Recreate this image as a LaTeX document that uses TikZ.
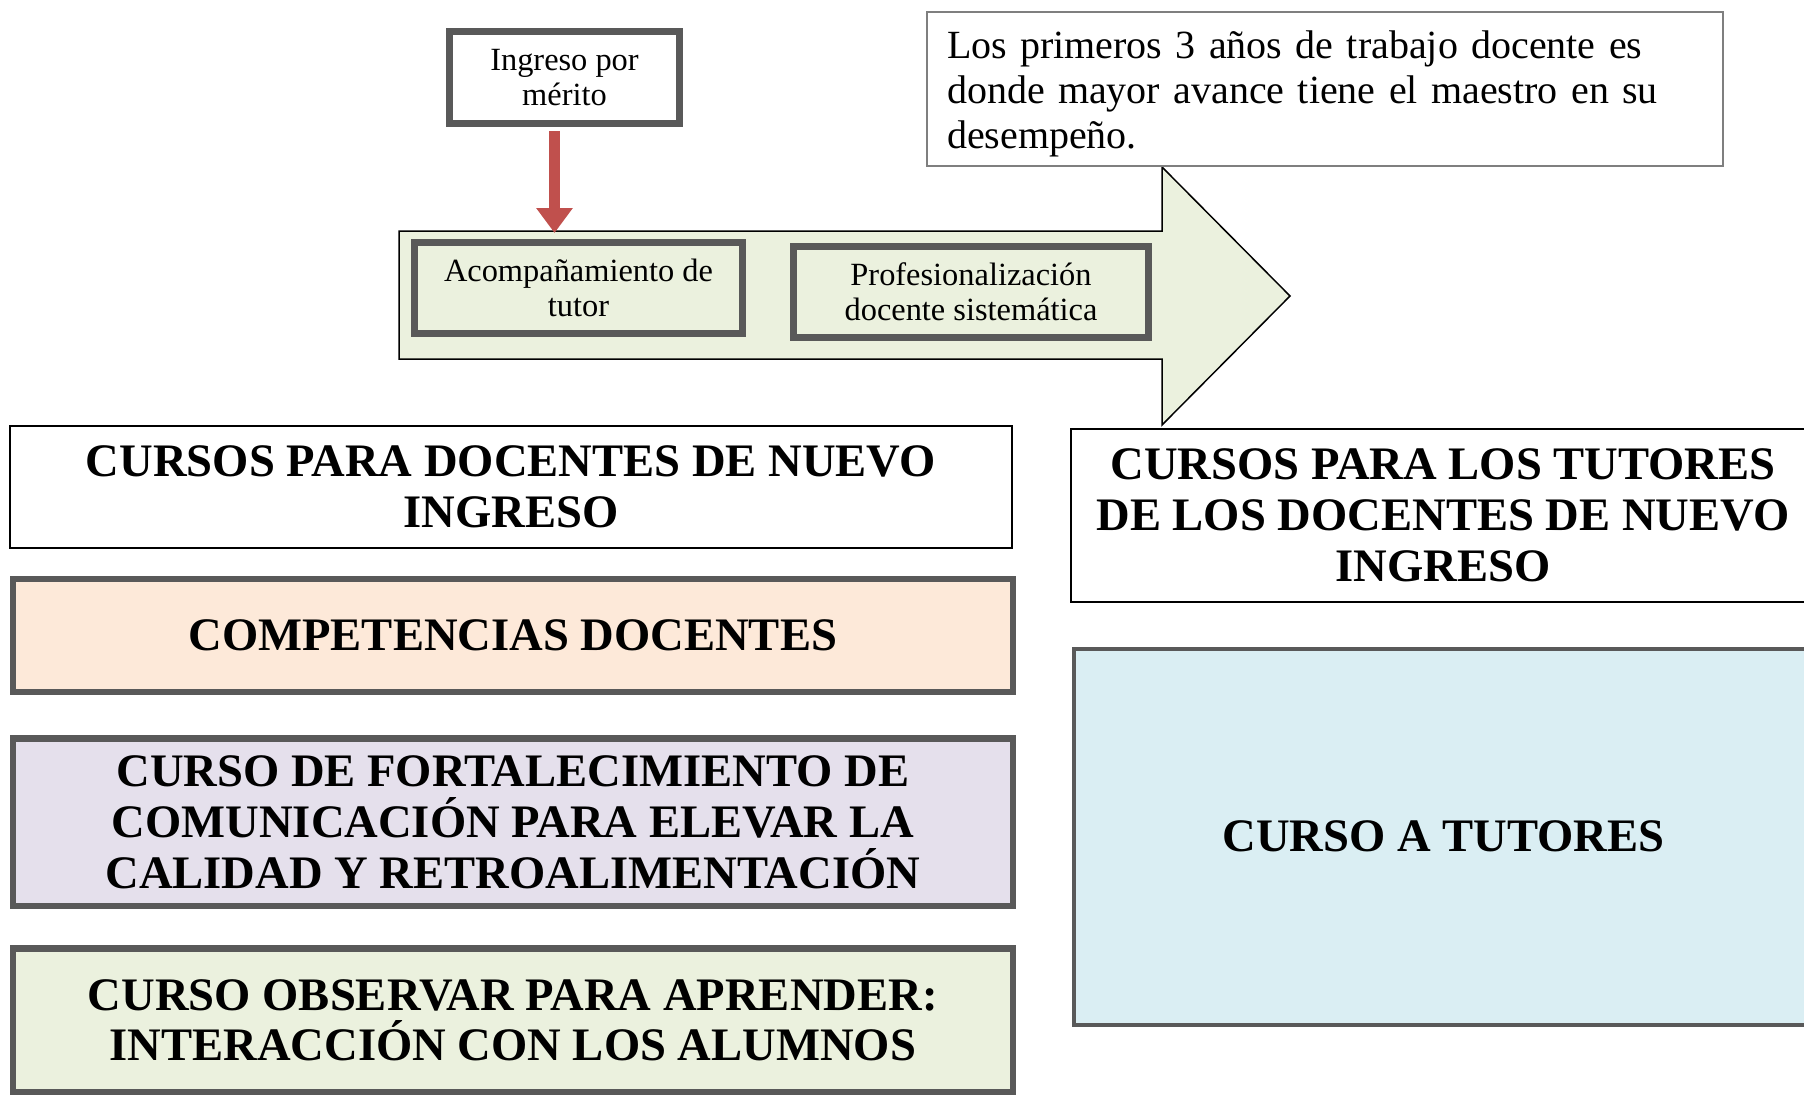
\documentclass[tikz,border=0pt]{standalone}
\usepackage{fontspec}
\setmainfont{Liberation Serif}
\usepackage{xcolor}
\usetikzlibrary{arrows.meta}

\definecolor{boxgray}{RGB}{89,89,89}
\definecolor{notegray}{RGB}{127,127,127}
\definecolor{flowgreen}{RGB}{235,241,222}
\definecolor{peach}{RGB}{253,233,217}
\definecolor{lavender}{RGB}{229,224,236}
\definecolor{paleblue}{RGB}{218,238,243}
\definecolor{arrowred}{RGB}{192,80,77}

\newcommand\smallfont{\fontsize{16.2}{17.4}\selectfont}
\newcommand\notefont{\fontsize{20}{22.4}\selectfont}
\newcommand\headfont{\fontsize{23.3}{25.3}\selectfont\bfseries}

\begin{document}
\begin{tikzpicture}[x=0.5pt,y=0.5pt,yscale=-1,xscale=1,
  thickbox/.style={draw=boxgray,line width=3.5pt,inner sep=0pt,align=center},
  bigbox/.style={draw=boxgray,line width=3.25pt,inner sep=0pt,align=center,font=\headfont},
  headbox/.style={draw=black,line width=1pt,fill=white,inner sep=0pt,align=center,font=\headfont},
  redarrow/.style={draw=arrowred,line width=5.5pt,-{Triangle[width=17.5pt,length=12.5pt]}}]
\useasboundingbox (0,0) rectangle (1804,1097);

%Shape: Right Arrow
\draw [fill=flowgreen,line width=0.75pt] (399,231) -- (1162,231) -- (1162,167) -- (1290,296) -- (1162,425) -- (1162,359) -- (399,359) -- cycle ;

% Text Node
\draw (564.5,77.5) node (ingreso) [thickbox,fill=white,minimum width=115pt,minimum height=46pt,font=\smallfont] {Ingreso por\\mérito};
% Text Node
\draw (578.5,288) node (acomp) [thickbox,fill=flowgreen,minimum width=164pt,minimum height=45.5pt,font=\smallfont] {Acompañamiento de\\tutor};
% Text Node
\draw (971,292) node (prof) [thickbox,fill=flowgreen,minimum width=177.5pt,minimum height=45.5pt,font=\smallfont] {Profesionalización\\docente sistemática};
% Text Node
\draw (1325,88.6) node (nota) [draw=notegray,line width=1pt,fill=white,minimum height=77pt,text width=378pt,inner xsep=10pt,inner ysep=0pt,align=left,font=\notefont] {\rule{0pt}{19pt}Los primeros 3 años de trabajo docente es\\donde mayor avance tiene el maestro en su\\desempeño.};

%Straight Lines
\coordinate (flowtop) at (554.5,233);
\draw [redarrow,shorten <=2.25pt] (ingreso.south -| flowtop) -- (flowtop) ;

% Text Node
\draw (511,486.6) node (nuevos) [headbox,minimum width=501pt,minimum height=61pt] {CURSOS PARA DOCENTES DE NUEVO\\INGRESO};
% Text Node
\draw (512.8,635.5) node (compet) [bigbox,fill=peach,minimum width=500pt,minimum height=56.5pt] {COMPETENCIAS DOCENTES};
% Text Node
\draw (512.8,822.25) node (fortal) [bigbox,fill=lavender,minimum width=500pt,minimum height=83.75pt] {CURSO DE FORTALECIMIENTO DE\\COMUNICACIÓN PARA ELEVAR LA\\CALIDAD Y RETROALIMENTACIÓN};
% Text Node
\draw (512.8,1020.35) node (observ) [bigbox,fill=flowgreen,minimum width=500pt,minimum height=71.65pt] {CURSO OBSERVAR PARA APRENDER:\\INTERACCIÓN CON LOS ALUMNOS};

% Text Node
\draw (1443,515.35) node (tutores) [headbox,minimum width=372pt,minimum height=86.35pt] {CURSOS PARA LOS TUTORES\\DE LOS DOCENTES DE NUEVO\\INGRESO};
% Text Node
\draw (1443.5,836.5) node (cursotut) [draw=boxgray,line width=2pt,fill=paleblue,inner sep=0pt,minimum width=369.5pt,minimum height=188pt,font=\headfont] {CURSO A TUTORES};

\end{tikzpicture}
\end{document}
